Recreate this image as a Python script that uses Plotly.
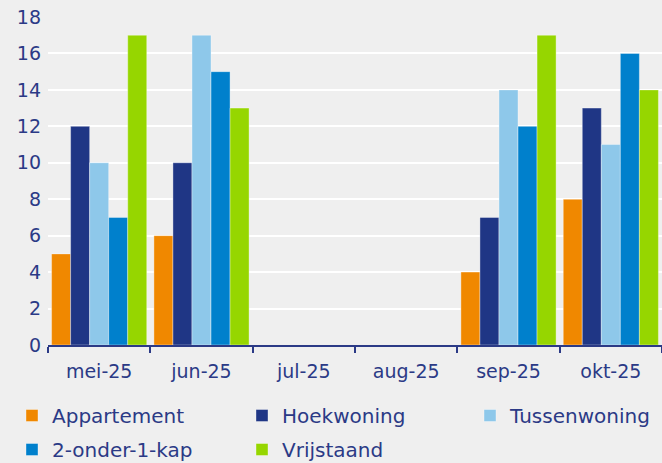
import plotly.graph_objects as go

categories = ["mei-25", "jun-25", "jul-25", "aug-25", "sep-25", "okt-25"]
appartement = [5, 6, None, None, 4, 8]
hoekwoning = [12, 10, None, None, 7, 13]
tussenwoning = [10, 17, None, None, 14, 11]
twee_onder_een_kap = [7, 15, None, None, 12, 16]
vrijstaand = [17, 13, None, None, 17, 14]
y_ticks = [0, 2, 4, 6, 8, 10, 12, 14, 16, 18]

# (name, values, colour, legend column)
series = [
    ("Appartement", appartement, "#F08800", "legend"),
    ("Hoekwoning", hoekwoning, "#1F3685", "legend2"),
    ("Tussenwoning", tussenwoning, "#8EC8EA", "legend3"),
    ("2-onder-1-kap", twee_onder_een_kap, "#0080CC", "legend"),
    ("Vrijstaand", vrijstaand, "#96D600", "legend2"),
]

text_color = "#2B3A86"
font_family = "DejaVu Sans, sans-serif"
fig = go.Figure()
for name, vals, color, leg in series:
    fig.add_trace(go.Bar(
        name=name, x=categories, y=vals, legend=leg, legendgroup=name,
        marker=dict(color=color, line=dict(color="rgba(255,255,255,0.6)", width=0.6)),
    ))

def legend_at(x_px):
    return dict(
        orientation="v", xref="container", yref="container",
        x=x_px / 662, xanchor="left", y=1 - 396 / 463, yanchor="top",
        font=dict(size=20, family=font_family, color=text_color),
        bgcolor="rgba(0,0,0,0)", traceorder="grouped", tracegroupgap=5,
    )

fig.update_layout(
    width=662, height=463,
    barmode="group", bargap=0.07, bargroupgap=0,
    paper_bgcolor="#EFEFEF", plot_bgcolor="#EFEFEF",
    margin=dict(l=48, r=0, t=17, b=118, autoexpand=False),
    font=dict(family=font_family, color=text_color, size=19),
    xaxis=dict(
        type="category", showline=True, linecolor=text_color, linewidth=1.5,
        ticks="outside", tickson="boundaries", ticklen=6, tickcolor=text_color, tickwidth=1.5,
        showgrid=False, tickfont=dict(size=19), automargin=False, tickangle=0,
        ticklabelstandoff=8,
    ),
    yaxis=dict(
        range=[0, 18], tickvals=y_ticks, showgrid=True, gridcolor="white", gridwidth=2,
        zeroline=False, showline=False, ticks="", tickfont=dict(size=19),
        ticklabelstandoff=6, automargin=False,
    ),
    legend=legend_at(12),
    legend2=legend_at(242),
    legend3=legend_at(470),
)

fig.write_html(
    "out.html",
    config={"displayModeBar": False},
    post_script="document.body.style.margin='0px';document.body.style.overflow='hidden';",
)
